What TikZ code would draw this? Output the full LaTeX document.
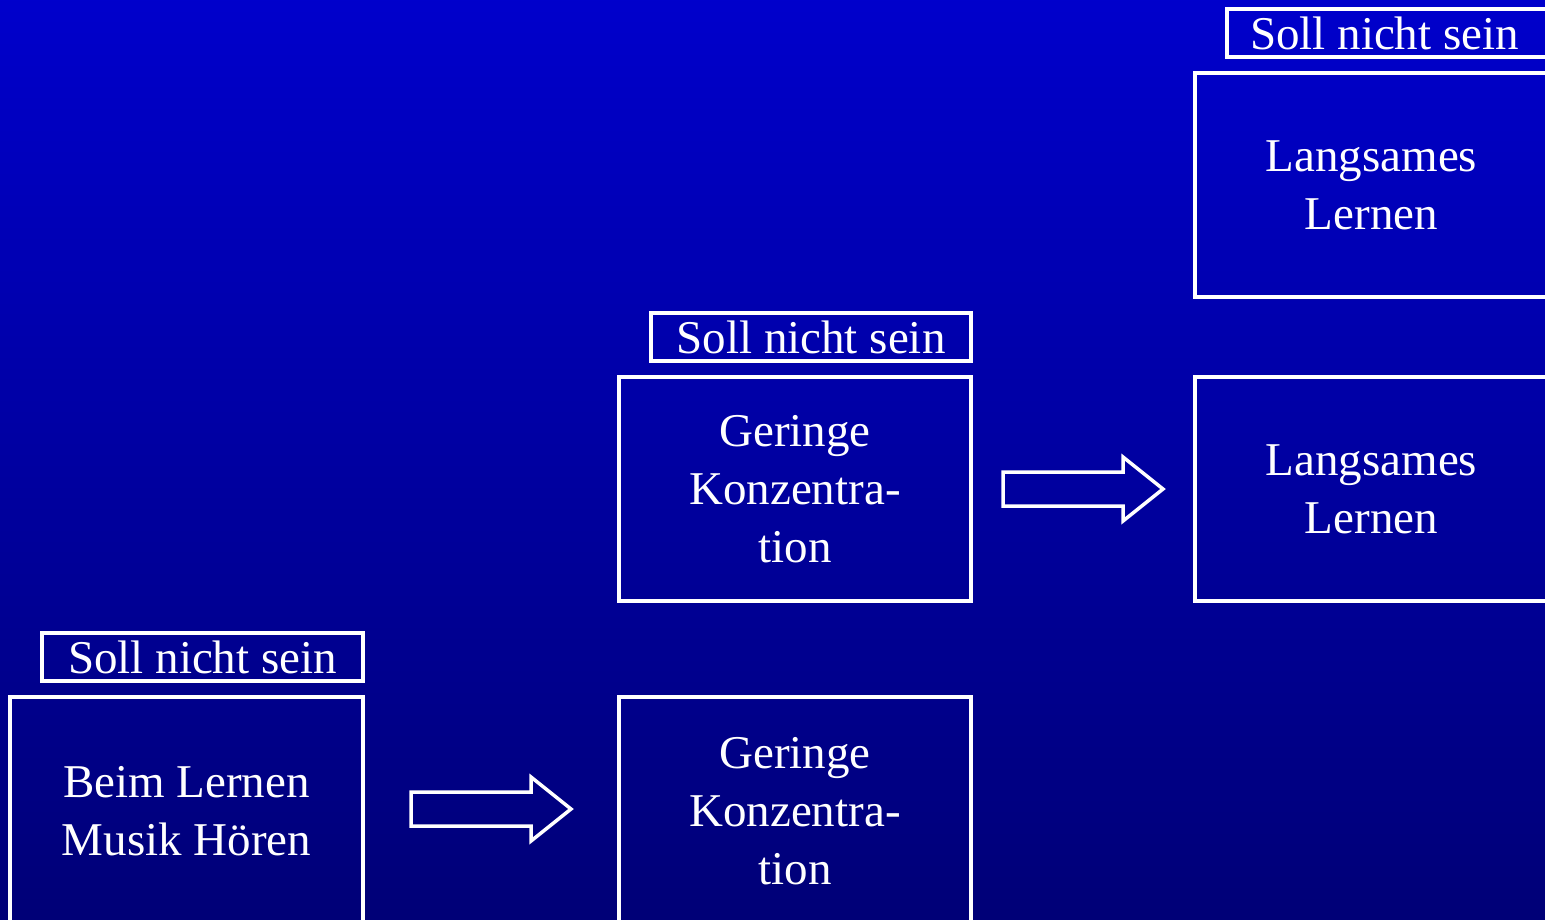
\documentclass[tikz,border=0pt]{standalone}
\usepackage{fontspec}
\setmainfont{Liberation Serif}
\usetikzlibrary{calc}
\definecolor{bgtop}{RGB}{0,0,204}
\definecolor{bgbot}{RGB}{0,0,118}
\begin{document}
\begin{tikzpicture}[x=1pt,y=-1pt,
  every node/.style={inner sep=0pt,outer sep=0pt,text=white,font=\fontsize{47}{58}\selectfont},
  bigbox/.style={draw=white,line width=3.5pt,rectangle,align=center,minimum width=352pt,minimum height=224pt},
  labbox/.style={draw=white,line width=3.5pt,rectangle,align=center,minimum width=321pt,minimum height=48pt},
  blockarrow/.style={draw=white,line width=3.5pt,line join=miter}]
\useasboundingbox (0,0) rectangle (1545,920);
\clip (0,0) rectangle (1545,920);
\shade[top color=bgtop,bottom color=bgbot] (-5,-5) rectangle (1550,925);
% bottom row
\node[labbox] (lab1) at (202.5,657) {\raisebox{-2pt}{Soll nicht sein}};
\node[bigbox,minimum width=353pt,minimum height=228pt] (box1) at (186.5,811) {Beim Lernen\\Musik Hören};
\node[bigbox,minimum height=228pt] (box2) at (795,811) {Geringe\\Konzentra-\\tion};
% middle row
\node[labbox,minimum width=320pt] (lab2) at (811,337) {\raisebox{-2pt}{Soll nicht sein}};
\node[bigbox] (box3) at (795,489) {Geringe\\Konzentra-\\tion};
\node[bigbox,minimum width=353pt] (box4) at (1371.5,489) {Langsames\\Lernen};
% top row
\node[labbox] (lab3) at (1387.5,33) {\hspace*{-6pt}\raisebox{-2pt}{Soll nicht sein}};
\node[bigbox,minimum width=353pt] (box5) at (1371.5,185) {Langsames\\Lernen};
% block arrows
\coordinate (a1) at ($(box1.east)+(48,-2)$);
\coordinate (b1) at ($(box3.east)+(32,0)$);
\draw[blockarrow] (a1) ++(0,-17) -- ++(120,0) -- ++(0,-15) -- ++(40,32) -- ++(-40,32) -- ++(0,-15) -- ++(-120,0) -- cycle;
\draw[blockarrow] (b1) ++(0,-17) -- ++(120,0) -- ++(0,-15) -- ++(40,32) -- ++(-40,32) -- ++(0,-15) -- ++(-120,0) -- cycle;
\end{tikzpicture}
\end{document}
